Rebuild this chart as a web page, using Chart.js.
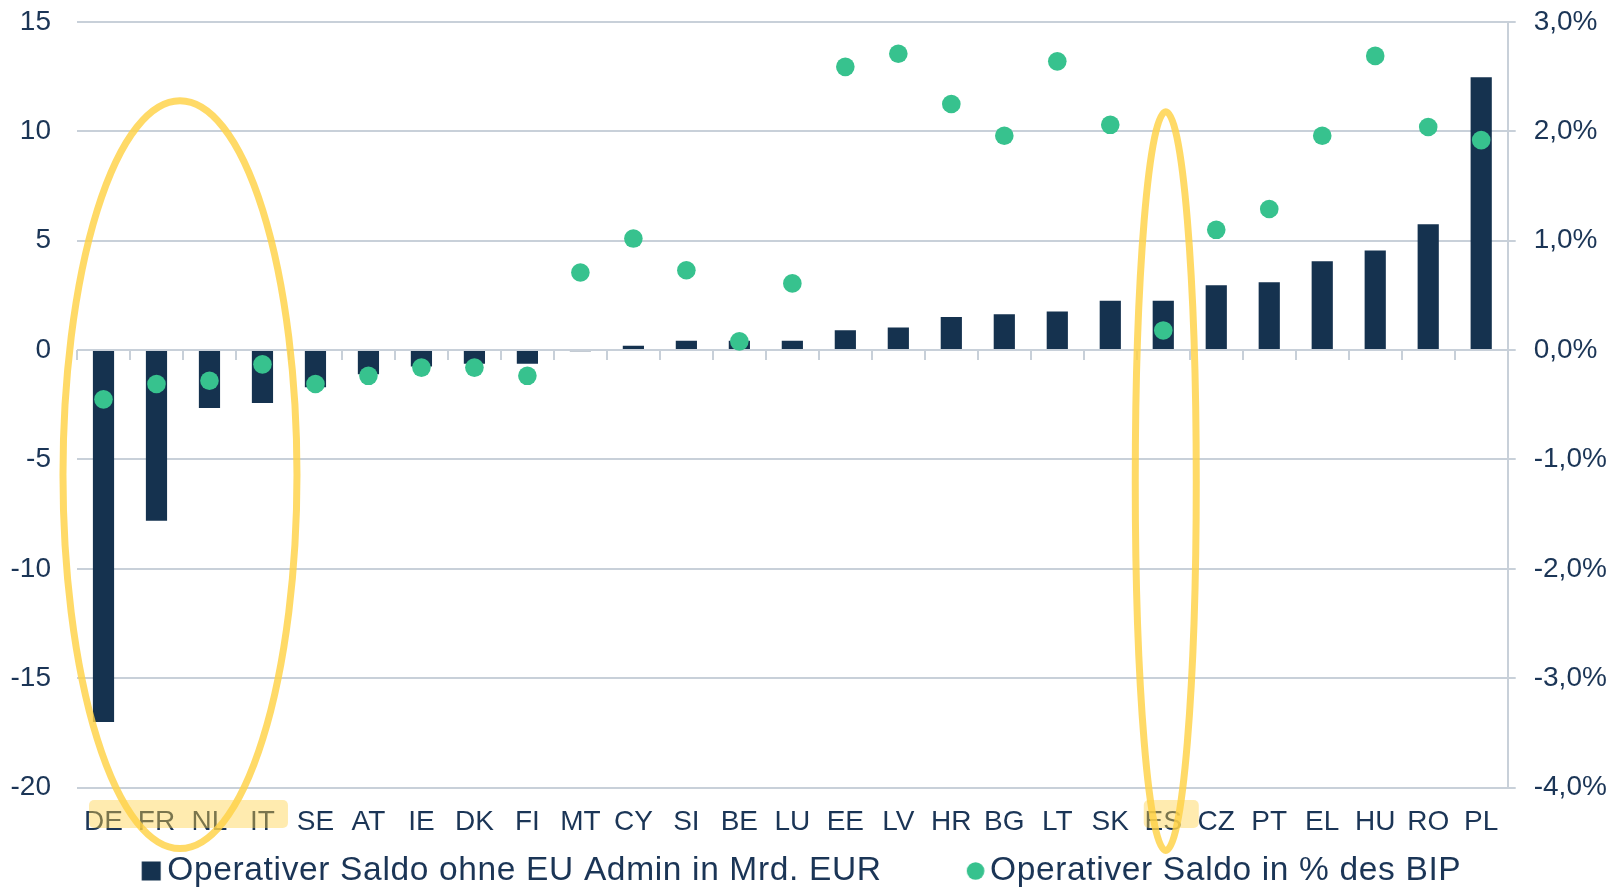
<!DOCTYPE html>
<html lang="de">
<head>
<meta charset="utf-8">
<title>Operativer Saldo</title>
<script src="https://cdn.jsdelivr.net/npm/chart.js@4/dist/chart.umd.min.js"></script>
<style>
  html, body { margin: 0; padding: 0; background: #ffffff; }
  #chart { display: block; }
</style>
</head>
<body>
<canvas id="chart" width="1608" height="890"></canvas>
<script>
/* global Chart */

// Operativer Saldo by member state: bars in bn EUR (left axis),
// dots in % of GDP (right axis).

const COUNTRIES = [
  "DE", "FR", "NL", "IT", "SE", "AT", "IE", "DK", "FI", "MT", "CY", "SI", "BE", "LU",
  "EE", "LV", "HR", "BG", "LT", "SK", "ES", "CZ", "PT", "EL", "HU", "RO", "PL",
];

const SALDO_MRD_EUR = [
  -17.0, -7.8, -2.65, -2.42, -1.7, -1.1, -0.75, -0.62, -0.62, -0.05, 0.2, 0.43, 0.43, 0.43,
  0.91, 1.03, 1.51, 1.64, 1.77, 2.26, 2.26, 2.97, 3.1, 4.06, 4.55, 5.75, 12.47,
];

const SALDO_PCT_BIP = [
  -0.45, -0.31, -0.28, -0.13, -0.31, -0.235, -0.16, -0.16, -0.235, 0.71, 1.02, 0.73, 0.08, 0.61,
  2.59, 2.71, 2.25, 1.96, 2.64, 2.06, 0.18, 1.1, 1.29, 1.96, 2.69, 2.04, 1.92,
];

const LEFT_TICKS = { min: -20, max: 15, step: 5 };
const RIGHT_TICKS = { min: -4, max: 3, step: 1 };

const SERIES_LABELS = [
  "Operativer Saldo ohne EU Admin in Mrd. EUR",
  "Operativer Saldo in % des BIP",
];

// Countries circled in the original slide.
const CIRCLED_GROUPS = [["DE", "FR", "NL", "IT"], ["ES"]];

const NAVY = "#15324f";
const GREEN = "#37c28e";
const TEXT = "#1b3556";
const GRID = "#c8d0d9";
const FONT_FAMILY = "'Liberation Sans', Arial, Helvetica, sans-serif";
const LEGEND_LETTER_SPACING = "0.65px";

Chart.defaults.font.family = FONT_FAMILY;
Chart.defaults.color = TEXT;

function makeMarker(offsetX, draw) {
  const half = Math.ceil(Math.abs(offsetX) + 12);
  const canvas = document.createElement("canvas");
  canvas.width = half * 2;
  canvas.height = 24;
  const ctx = canvas.getContext("2d");
  draw(ctx, half + offsetX, 12);
  return canvas;
}

const squareMarker = makeMarker(13.15, (ctx, cx, cy) => {
  ctx.fillStyle = NAVY;
  ctx.fillRect(cx - 9.5, cy - 9.5, 19, 19);
});

const dotMarker = makeMarker(14.75, (ctx, cx, cy) => {
  ctx.fillStyle = GREEN;
  ctx.beginPath();
  ctx.arc(cx, cy, 8.8, 0, Math.PI * 2);
  ctx.fill();
});

// The slide's legend text is slightly tracked out; apply letter spacing
// only while the legend measures and draws itself.
const legendSpacing = {
  id: "legendSpacing",
  beforeLayout(chart) {
    const legend = chart.legend;
    if (!legend || legend._spaced) {
      return;
    }
    legend._spaced = true;
    ["fit", "draw"].forEach((name) => {
      const original = legend[name].bind(legend);
      legend[name] = (...args) => {
        const ctx = chart.ctx;
        ctx.save();
        ctx.letterSpacing = LEGEND_LETTER_SPACING;
        original(...args);
        ctx.restore();
      };
    });
  },
};

// Yellow label highlights and hand-drawn style ellipses.
const circledGroups = {
  id: "circledGroups",
  afterDraw(chart) {
    const { ctx, chartArea } = chart;
    const x = chart.scales.x;
    const y = chart.scales.y;

    const shapes = CIRCLED_GROUPS.map((group, i) => {
      const first = x.getPixelForValue(COUNTRIES.indexOf(group[0]));
      const last = x.getPixelForValue(COUNTRIES.indexOf(group[group.length - 1]));
      const mid = (first + last) / 2;
      if (i === 0) {
        return {
          box: [first - 14.5, last + 25.5],
          cx: mid - 3,
          rx: 117,
          top: y.getPixelForValue(11.4),
          bottom: chartArea.bottom + 61,
        };
      }
      return {
        box: [first - 19.5, last + 35.5],
        cx: mid + 2.5,
        rx: 30.5,
        top: y.getPixelForValue(10.9),
        bottom: chartArea.bottom + 63,
      };
    });

    ctx.save();
    ctx.fillStyle = "rgba(255, 207, 64, 0.42)";
    shapes.forEach(({ box }) => {
      const top = chartArea.bottom + 12.4;
      ctx.beginPath();
      ctx.roundRect(box[0], top, box[1] - box[0], 28, 5);
      ctx.fill();
    });

    ctx.strokeStyle = "rgba(255, 210, 70, 0.82)";
    ctx.lineWidth = 7;
    shapes.forEach(({ cx, rx, top, bottom }) => {
      ctx.beginPath();
      ctx.ellipse(cx, (top + bottom) / 2, rx, (bottom - top) / 2, 0, 0, Math.PI * 2);
      ctx.stroke();
    });
    ctx.restore();
  },
};

const formatPercent = (value) => `${Number(value).toFixed(1).replace(".", ",")}%`;

new Chart(document.getElementById("chart"), {
  data: {
    labels: COUNTRIES,
    datasets: [
      {
        type: "bar",
        label: SERIES_LABELS[0],
        data: SALDO_MRD_EUR,
        backgroundColor: NAVY,
        borderWidth: 0,
        barPercentage: 0.4,
        categoryPercentage: 1,
        yAxisID: "y",
        order: 1,
      },
      {
        type: "line",
        label: SERIES_LABELS[1],
        data: SALDO_PCT_BIP,
        showLine: false,
        pointRadius: 9.3,
        pointHoverRadius: 9.3,
        pointBackgroundColor: GREEN,
        pointBorderWidth: 0,
        backgroundColor: GREEN,
        borderColor: GREEN,
        yAxisID: "y1",
        order: 0,
      },
    ],
  },
  options: {
    responsive: false,
    animation: false,
    // negative left padding only shifts the full-width legend row left
    layout: { padding: { top: 22, right: 0, bottom: 0, left: -21.15 } },
    scales: {
      x: {
        type: "category",
        position: { y: LEFT_TICKS.min },
        offset: true,
        grid: { display: false, drawTicks: false },
        border: { display: false },
        ticks: {
          autoSkip: false,
          maxRotation: 0,
          padding: 17.6,
          color: TEXT,
          font: { size: 28 },
        },
      },
      x2: {
        type: "category",
        position: { y: 0 },
        offset: true,
        grid: {
          offset: true,
          drawOnChartArea: false,
          drawTicks: true,
          tickLength: 10,
          color: GRID,
          lineWidth: 2,
        },
        border: { display: false },
        ticks: { display: false },
      },
      y: {
        position: "left",
        min: LEFT_TICKS.min,
        max: LEFT_TICKS.max,
        grid: { color: GRID, lineWidth: 2, drawTicks: false },
        border: { display: false },
        ticks: {
          stepSize: LEFT_TICKS.step,
          padding: 26,
          color: TEXT,
          font: { size: 28 },
        },
        afterFit: (scale) => {
          scale.width = 98.15;
          scale.paddingTop = 0;
          scale.paddingBottom = 0;
        },
      },
      y1: {
        position: "right",
        min: RIGHT_TICKS.min,
        max: RIGHT_TICKS.max,
        grid: {
          drawOnChartArea: false,
          drawTicks: true,
          tickLength: 8,
          color: GRID,
          lineWidth: 2,
        },
        border: { display: true, color: GRID, width: 2 },
        ticks: {
          stepSize: RIGHT_TICKS.step,
          padding: 18,
          color: TEXT,
          font: { size: 28 },
          callback: formatPercent,
        },
        afterFit: (scale) => {
          scale.width = 100.3;
          scale.paddingTop = 0;
          scale.paddingBottom = 0;
        },
      },
    },
    plugins: {
      tooltip: { enabled: false },
      legend: {
        position: "bottom",
        align: "center",
        maxHeight: 102.4,
        labels: {
          usePointStyle: true,
          pointStyleWidth: 25,
          padding: 66.65,
          color: TEXT,
          font: { size: 33.5 },
          sort: (a, b) => a.datasetIndex - b.datasetIndex,
          generateLabels: (chart) =>
            Chart.defaults.plugins.legend.labels.generateLabels(chart).map((item) => ({
              ...item,
              pointStyle: item.datasetIndex === 0 ? squareMarker : dotMarker,
            })),
        },
      },
    },
  },
  plugins: [legendSpacing, circledGroups],
});
</script>
</body>
</html>
